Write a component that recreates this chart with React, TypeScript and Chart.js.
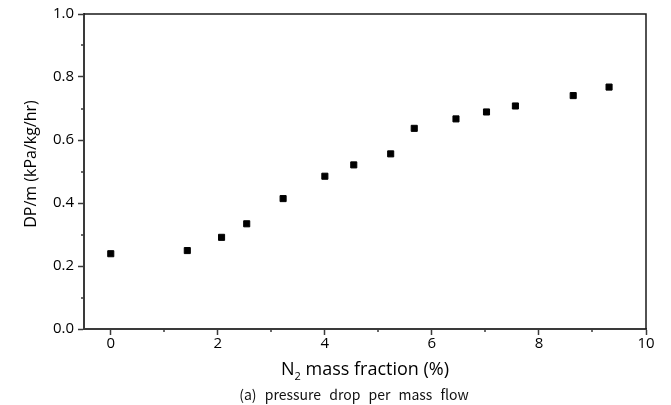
import React, { useEffect, useRef } from 'react';
import { Chart, registerables } from 'chart.js';

Chart.register(...registerables);

const nFraction = [0, 1.43, 2.07, 2.54, 3.22, 4.0, 4.54, 5.23, 5.67, 6.45, 7.02, 7.56, 8.64, 9.31];
const dpPerMass = [0.239, 0.249, 0.291, 0.334, 0.414, 0.485, 0.521, 0.556, 0.637, 0.667, 0.689, 0.708, 0.741, 0.768];
const xMajorTicks = [0, 2, 4, 6, 8, 10];
const xMinorTicks = [1, 3, 5, 7, 9];
const yMajorTicks = [0, 0.2, 0.4, 0.6, 0.8, 1.0];
const yMinorTicks = [0.1, 0.3, 0.5, 0.7, 0.9];
const yTitleText = 'DP/m (kPa/kg/hr)';
const xTitleMain = 'N';
const xTitleSub = '2';
const xTitleRest = ' mass fraction (%)';
const captionWords = ['(a)', 'pressure', 'drop', 'per', 'mass', 'flow'];

const FONT = '"Open Sans", "DejaVu Sans", sans-serif';
const AXIS_COLOR = '#3a3a3a';

const decorPlugin = {
  id: 'decor',
  afterDraw(chart: any) {
    const ctx = chart.ctx as CanvasRenderingContext2D;
    const area = chart.chartArea;
    const xs = chart.scales.x;
    const ys = chart.scales.y;
    ctx.save();
    // top & right frame
    ctx.strokeStyle = '#1a1a1a';
    ctx.lineWidth = 1.5;
    ctx.beginPath();
    ctx.moveTo(area.left, area.top);
    ctx.lineTo(area.right, area.top);
    ctx.lineTo(area.right, area.bottom);
    ctx.stroke();
    // minor ticks
    ctx.strokeStyle = AXIS_COLOR;
    ctx.lineWidth = 1.5;
    ctx.beginPath();
    xMinorTicks.forEach((v) => {
      const px = Math.round(xs.getPixelForValue(v));
      ctx.moveTo(px, area.bottom);
      ctx.lineTo(px, area.bottom + 3);
    });
    yMinorTicks.forEach((v) => {
      const py = Math.round(ys.getPixelForValue(v));
      ctx.moveTo(area.left, py);
      ctx.lineTo(area.left - 3, py);
    });
    ctx.stroke();

    ctx.fillStyle = '#000';
    // y title
    ctx.save();
    ctx.font = `16px ${FONT}`;
    ctx.textAlign = 'center';
    ctx.textBaseline = 'middle';
    ctx.translate(31, 164);
    ctx.rotate(-Math.PI / 2);
    ctx.fillText(yTitleText, 0, 0);
    ctx.restore();

    // x title with subscript
    const mainFont = `18px ${FONT}`;
    const subFont = `11px ${FONT}`;
    ctx.font = mainFont;
    const wN = ctx.measureText(xTitleMain).width;
    const wRest = ctx.measureText(xTitleRest).width;
    ctx.font = subFont;
    const wSub = ctx.measureText(xTitleSub).width;
    const total = wN + wSub + wRest;
    const cx = (area.left + area.right) / 2;
    let x0 = cx - total / 2;
    const base = 375;
    ctx.textAlign = 'left';
    ctx.textBaseline = 'alphabetic';
    ctx.font = mainFont;
    ctx.fillText(xTitleMain, x0, base);
    x0 += wN;
    ctx.font = subFont;
    ctx.fillText(xTitleSub, x0, base + 5);
    x0 += wSub;
    ctx.font = mainFont;
    ctx.fillText(xTitleRest, x0, base);

    // caption
    ctx.fillStyle = '#111';
    ctx.font = `14px "Noto Sans CJK KR", ${FONT}`;
    const gap = ctx.measureText(' ').width + 5;
    const widths = captionWords.map((w) => ctx.measureText(w).width);
    const capTotal = widths.reduce((a, b) => a + b, 0) + gap * (captionWords.length - 1);
    let cxp = 354 - capTotal / 2;
    captionWords.forEach((w, i) => {
      ctx.fillText(w, cxp, 400);
      cxp += widths[i] + gap;
    });
    ctx.restore();
  },
};

export default function App() {
  const canvasRef = useRef<HTMLCanvasElement | null>(null);

  useEffect(() => {
    document.body.style.margin = '0';
    const canvas = canvasRef.current;
    if (!canvas) return;
    const chart = new Chart(canvas, {
      type: 'scatter',
      data: {
        datasets: [
          {
            label: 'DP/m',
            data: nFraction.map((x, i) => ({ x, y: dpPerMass[i] })),
            pointStyle: 'rect',
            pointRadius: 4.3,
            pointBackgroundColor: '#000',
            pointBorderColor: '#000',
            pointBorderWidth: 1,
            showLine: false,
          },
        ],
      },
      options: {
        animation: false,
        responsive: false,
        devicePixelRatio: 1,
        layout: { padding: { left: 0, right: 25, top: 14, bottom: 0 } },
        plugins: {
          legend: { display: false },
          tooltip: { enabled: false },
          title: { display: false },
        },
        scales: {
          x: {
            type: 'linear',
            min: -0.5,
            max: 10,
            afterBuildTicks: (s: any) => {
              s.ticks = xMajorTicks.map((v) => ({ value: v }));
            },
            afterFit: (s: any) => {
              s.height = 76;
            },
            ticks: {
              color: '#000',
              font: { family: FONT, size: 15 },
              padding: 0,
              maxRotation: 0,
              callback: (v: any) => String(v),
            },
            grid: {
              display: true,
              drawOnChartArea: false,
              drawTicks: true,
              tickLength: 6,
              tickColor: AXIS_COLOR,
              tickWidth: 1.5,
            },
            border: { display: true, color: AXIS_COLOR, width: 2 },
            title: { display: false },
          },
          y: {
            type: 'linear',
            min: 0,
            max: 1,
            afterBuildTicks: (s: any) => {
              s.ticks = yMajorTicks.map((v) => ({ value: v }));
            },
            afterFit: (s: any) => {
              s.width = 84;
            },
            ticks: {
              color: '#000',
              font: { family: FONT, size: 15 },
              padding: 4,
              callback: (v: any) => Number(v).toFixed(1),
            },
            grid: {
              display: true,
              drawOnChartArea: false,
              drawTicks: true,
              tickLength: 6,
              tickColor: AXIS_COLOR,
              tickWidth: 1.5,
            },
            border: { display: true, color: AXIS_COLOR, width: 2 },
            title: { display: false },
          },
        },
      },
      plugins: [decorPlugin],
    });
    return () => chart.destroy();
  }, []);

  return (
    <div style={{ width: 671, height: 405, background: '#fff' }}>
      <canvas ref={canvasRef} width={671} height={405} style={{ display: 'block' }} />
    </div>
  );
}
